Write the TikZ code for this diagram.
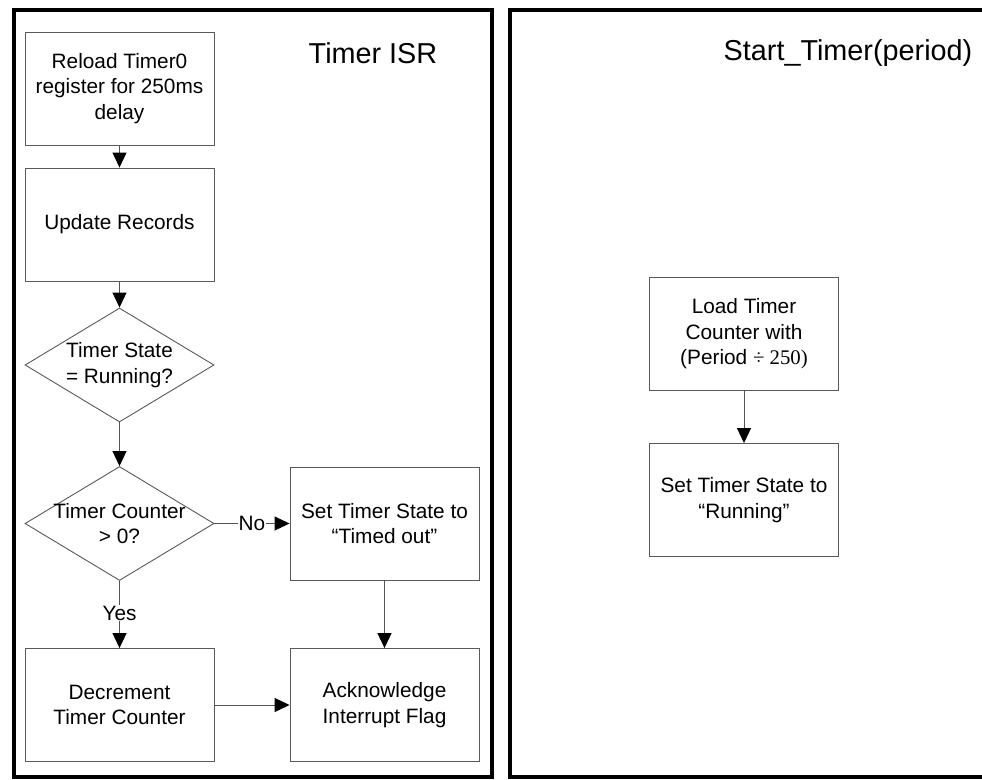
\documentclass[tikz,border=0pt]{standalone}
\usepackage{fontspec}
\setmainfont{Liberation Sans}
\newfontfamily\serifnum{Liberation Serif}
\usetikzlibrary{arrows.meta,shapes.geometric}

\begin{document}
\begin{tikzpicture}[x=1pt,y=-1pt,
  panel/.style={draw=black,line width=4pt},
  stepbox/.style={draw=gray!70!black,line width=0.9pt,minimum width=189pt,
    minimum height=113pt,inner sep=0pt,align=center,
    font=\fontsize{20.8}{25.5}\selectfont},
  decision/.style={draw=gray!70!black,line width=0.9pt,diamond,aspect=1.66,
    minimum width=189pt,minimum height=114pt,inner sep=0pt},
  dtext/.style={align=center,inner sep=0pt,font=\fontsize{20.8}{25.5}\selectfont},
  title/.style={font=\fontsize{28.8}{32}\selectfont,inner sep=0pt},
  flow/.style={draw=gray!65!black,line width=0.9pt,
    -{Triangle[length=15pt,width=14pt,fill=black,color=black]}},
  lbl/.style={fill=white,inner sep=1pt,font=\fontsize{20.8}{22}\selectfont}]
\useasboundingbox (0,0) rectangle (982,779);

% outer frames of the two routines
\draw[panel] (13.5,9.5) rectangle (492,777);
\draw[panel] (510,9.5) rectangle (1000,777);

% ---- Timer ISR ----
\node[title] (isr) at (373,53) {Timer ISR};

\node[stepbox] (reload) at (119.5,88.5) {Reload Timer0\\register for 250ms\\delay};
\node[stepbox] (update) at (119.5,224.5) {Update Records};
\node[decision] (running) at (119.5,365) {};
\node[dtext] at (running) {Timer State\\= Running?};
\node[decision] (count) at (119.5,523.5) {};
\node[dtext] at (count) {Timer Counter\\> 0?};
\node[stepbox] (timedout) at (384.5,523.5) {Set Timer State to\\``Timed out''};
\node[stepbox] (decr) at (119.5,705) {Decrement\\Timer Counter};
\node[stepbox] (ack) at (384.5,705) {Acknowledge\\Interrupt Flag};

\draw[flow] (reload) -- (update);
\draw[flow] (update) -- (running);
\draw[flow] (running) -- (count);
\draw[flow] (count) -- node[lbl] {No} (timedout);
\draw[flow] (count) -- node[lbl,pos=0.48] {Yes} (decr);
\draw[flow] (timedout) -- (ack);
\draw[flow] (decr) -- (ack);

% ---- Start_Timer(period) ----
\node[title] (start) at (848,53) {Start\_Timer(period)};

\node[stepbox] (load) at (744,334) {Load Timer\\Counter with\\(Period {\serifnum ÷ 250)}};
\node[stepbox] (setrun) at (744,500) {Set Timer State to\\``Running''};

\draw[flow] (load) -- (setrun);
\end{tikzpicture}
\end{document}
